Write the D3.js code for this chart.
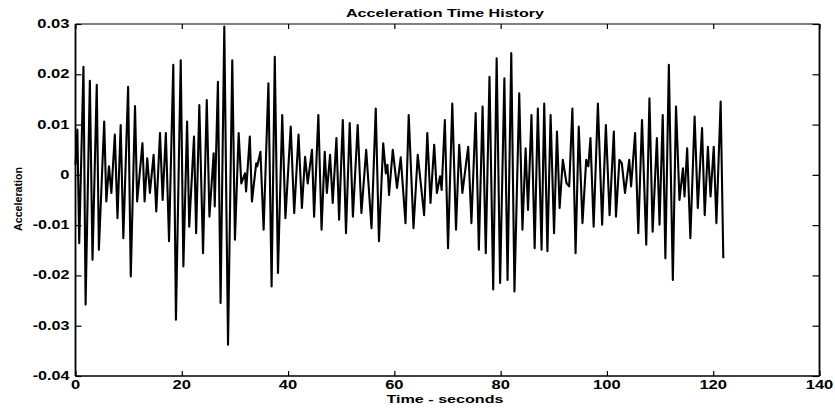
<!DOCTYPE html>
<html><head><meta charset="utf-8">
<script src="https://cdn.jsdelivr.net/npm/d3@7/dist/d3.min.js"></script>
<style>
html,body{margin:0;padding:0;background:#fff;}
svg text{font-family:"Liberation Sans",Arial,Helvetica,sans-serif;font-weight:bold;fill:#000;}
</style></head>
<body><svg id="chart" width="835" height="412"></svg>
<script>
const title = "Acceleration Time History";
const xLabel = "Time - seconds";
const yLabel = "Acceleration";
const xTicks = [0, 20, 40, 60, 80, 100, 120, 140];
const yTicks = [-0.04, -0.03, -0.02, -0.01, 0, 0.01, 0.02, 0.03];
const yTickLabels = ["-0.04", "-0.03", "-0.02", "-0.01", "0", "0.01", "0.02", "0.03"];

// time (s) of each turning point in the record
const times = [
0,0.35,0.7,1.5,1.9,2.7,3.2,4.0,4.4,5.4,5.8,6.3,6.75,7.4,7.9,8.5,9.0,9.9,10.4,11.2,
11.6,12.6,13.0,13.5,14.0,14.7,15.2,15.9,16.4,17.0,17.6,18.4,18.9,19.8,20.3,21.0,21.4,22.3,22.7,23.3,
24.0,24.7,25.2,26.0,26.2,26.8,27.3,28.0,28.7,29.5,30.0,30.7,31.2,31.9,32.1,32.8,33.2,34.0,34.2,34.8,
35.4,36.3,36.9,37.5,38.1,38.9,39.5,40.5,41.15,41.97,42.6,43.2,43.7,44.5,44.9,45.7,46.3,46.9,47.3,47.9,
48.4,49.1,49.6,50.3,50.9,51.6,52.2,53.1,53.8,54.7,55.7,56.5,57.1,57.9,58.4,58.7,59.0,59.7,60.5,61.2,
62.1,62.7,63.6,64.4,65.6,66.2,66.8,67.5,68.0,68.6,68.9,69.5,70.1,70.9,71.6,72.2,72.8,73.9,74.5,75.3,
75.9,76.6,77.2,77.9,78.6,79.25,79.9,80.7,81.3,82.0,82.6,83.5,84.1,84.7,85.15,85.8,86.4,87.0,87.7,88.2,
88.8,89.4,90.05,90.6,91.1,91.7,92.4,92.9,93.5,94.1,94.7,95.4,96.1,96.5,96.9,97.5,98.3,99.1,99.8,100.5,
101.3,101.7,102.35,102.8,103.4,104.2,104.55,105.3,105.9,106.6,107.4,108.0,108.6,109.4,109.9,110.5,111.0,111.65,112.4,113.0,
113.65,114.3,114.6,115.1,115.7,116.5,117.1,117.9,118.4,119.0,119.5,120.1,120.6,121.4,121.9
];
// acceleration at each of those turning points
const accel = [
0.002,0.009,-0.0136,0.0215,-0.0258,0.0187,-0.0169,0.0179,-0.0149,0.0106,-0.0053,0.0017,-0.0036,0.008,-0.0086,0.0099,-0.0126,0.0175,-0.0202,0.0137,
-0.0053,0.0063,-0.0053,0.0033,-0.0036,0.004,-0.0073,0.0083,-0.005,0.0083,-0.0132,0.0219,-0.0288,0.0228,-0.0182,0.0106,-0.0103,0.0076,-0.0116,0.0139,
-0.0156,0.0149,-0.0083,0.0043,-0.0063,0.0185,-0.0255,0.0295,-0.0338,0.0228,-0.0129,0.0083,-0.0017,0.0003,-0.0033,0.0076,-0.0053,0.0023,0.0017,0.0046,
-0.0109,0.0182,-0.0222,0.0235,-0.0195,0.0119,-0.0086,0.0096,-0.0076,0.008,-0.0066,0.0036,-0.0017,0.005,-0.0083,0.0119,-0.0109,0.0046,-0.0036,0.004,
-0.0056,0.0073,-0.0089,0.0109,-0.0116,0.0103,-0.0083,0.0099,-0.0076,0.005,-0.0106,0.0132,-0.0132,0.0063,0.0003,0.002,-0.004,0.005,-0.0026,0.0035,
-0.0096,0.0119,-0.0106,0.004,-0.008,0.0083,-0.0056,0.006,-0.0036,-0.0003,-0.003,0.0109,-0.0146,0.0142,-0.0109,0.006,-0.0036,0.0056,-0.0096,0.0123,
-0.0149,0.0136,-0.0156,0.0195,-0.0228,0.0232,-0.0215,0.0192,-0.0209,0.0242,-0.0232,0.0162,-0.0109,0.0053,-0.007,0.0119,-0.0146,0.0132,-0.0149,0.0142,
-0.0152,0.0119,-0.0116,0.0086,-0.0066,0.003,-0.0017,-0.0023,0.0132,-0.0156,0.0096,-0.0096,0.003,0.0017,0.0073,-0.0103,0.0142,-0.0099,0.0099,-0.008,
0.0086,-0.0083,0.003,0.0023,-0.0036,0.003,-0.0023,0.0083,-0.0116,0.0109,-0.0139,0.0152,-0.0113,0.0073,-0.0099,0.0119,-0.0166,0.0219,-0.0209,0.0136,
-0.005,0.0013,-0.0043,0.0053,-0.0126,0.0116,-0.0066,0.0093,-0.008,0.0056,-0.0043,0.0056,-0.0096,0.0146,-0.0166
];

const svg = d3.select("#chart");
const L = 75.5, R = 819.5, T = 24, B = 376;
const x = d3.scaleLinear().domain([0, 140]).range([L, R]);
const y = d3.scaleLinear().domain([-0.04, 0.03]).range([B, T]);

// signal
const data = times.map((t, i) => [t, accel[i]]);
svg.append("path")
  .datum(data)
  .attr("fill", "none")
  .attr("stroke", "#000")
  .attr("stroke-width", 2.1)
  .attr("stroke-linejoin", "round")
  .attr("d", d3.line().x(d => x(d[0])).y(d => y(d[1])));

// axes with inward ticks
function styleAxis(g){
  g.select(".domain").remove();
  g.selectAll(".tick line").attr("stroke", "#000").attr("stroke-width", 1.2);
}
svg.append("g").attr("transform", `translate(0,${B})`)
  .call(d3.axisBottom(x).tickValues(xTicks).tickSize(-5).tickFormat(""))
  .call(styleAxis);
svg.append("g").attr("transform", `translate(0,${T})`)
  .call(d3.axisTop(x).tickValues(xTicks).tickSize(-5).tickFormat(""))
  .call(styleAxis);
svg.append("g").attr("transform", `translate(${L},0)`)
  .call(d3.axisLeft(y).tickValues(yTicks).tickSize(-6).tickFormat(""))
  .call(styleAxis);
svg.append("g").attr("transform", `translate(${R},0)`)
  .call(d3.axisRight(y).tickValues(yTicks).tickSize(-7).tickFormat(""))
  .call(styleAxis);

// frame
svg.append("line").attr("x1", L).attr("x2", R).attr("y1", T).attr("y2", T).attr("stroke", "#000").attr("stroke-width", 1);
svg.append("line").attr("x1", L).attr("x2", R).attr("y1", B).attr("y2", B).attr("stroke", "#000").attr("stroke-width", 1.6);
svg.append("line").attr("x1", L).attr("x2", L).attr("y1", T).attr("y2", B).attr("stroke", "#000").attr("stroke-width", 1.8);
svg.append("line").attr("x1", R).attr("x2", R).attr("y1", T).attr("y2", B).attr("stroke", "#000").attr("stroke-width", 1.8);

function labelWidth(s){
  let w = 0;
  for (const c of s) w += (c === "." ? 4.6 : c === "-" ? 4.6 : 9.2);
  return w;
}

// x tick labels
svg.append("g").selectAll("text").data(xTicks).join("text")
  .attr("x", d => x(d)).attr("y", 389)
  .attr("text-anchor", "middle")
  .attr("font-size", 12)
  .attr("textLength", d => labelWidth(String(d)))
  .attr("lengthAdjust", "spacingAndGlyphs")
  .text(d => String(d));

// y tick labels
svg.append("g").selectAll("text").data(yTicks).join("text")
  .attr("x", 69.5).attr("y", d => y(d) + 4)
  .attr("text-anchor", "end")
  .attr("font-size", 12)
  .attr("textLength", (d, i) => labelWidth(yTickLabels[i]))
  .attr("lengthAdjust", "spacingAndGlyphs")
  .text((d, i) => yTickLabels[i]);

// title and axis titles
svg.append("text").attr("x", 445).attr("y", 17).attr("text-anchor", "middle")
  .attr("font-size", 11.5).attr("textLength", 198).attr("lengthAdjust", "spacingAndGlyphs").text(title);
svg.append("text").attr("x", 445).attr("y", 403).attr("text-anchor", "middle")
  .attr("font-size", 11.5).attr("textLength", 117).attr("lengthAdjust", "spacingAndGlyphs").text(xLabel);
svg.append("text").attr("transform", "translate(22,199) rotate(-90)").attr("text-anchor", "middle")
  .attr("font-size", 11).attr("textLength", 64).attr("lengthAdjust", "spacingAndGlyphs").text(yLabel);
</script></body></html>
